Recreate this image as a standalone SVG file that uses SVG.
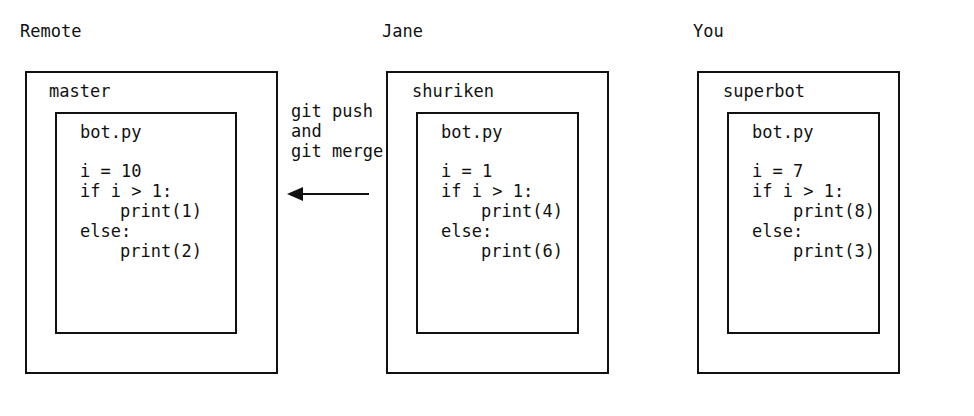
<svg xmlns="http://www.w3.org/2000/svg" width="974" height="416" viewBox="0 0 974 416">
<style>
text{font-family:"DejaVu Sans Mono","Liberation Mono",monospace;font-size:17px;fill:#111}
.box{fill:#fff;stroke:#111;stroke-width:2}
.conn{stroke:#111;stroke-width:2;fill:none}
</style>
<rect width="974" height="416" fill="#fff"/>
<g id="remote">
<text x="20" y="37">Remote</text>
<rect class="box" x="26" y="72" width="251" height="301"/>
<text x="49" y="97">master</text>
<rect class="box" x="56" y="113" width="180" height="220"/>
<text x="80" y="138">bot.py</text>
<text x="80" y="177">i = 10</text>
<text x="80" y="197">if i &gt; 1:</text>
<text x="120" y="217">print(1)</text>
<text x="80" y="237">else:</text>
<text x="120" y="257">print(2)</text>
</g>
<g id="jane">
<text x="382" y="37">Jane</text>
<rect class="box" x="387" y="72" width="221" height="301"/>
<text x="412" y="97">shuriken</text>
<rect class="box" x="417" y="113" width="161" height="220"/>
<text x="441" y="138">bot.py</text>
<text x="441" y="177">i = 1</text>
<text x="441" y="197">if i &gt; 1:</text>
<text x="481" y="217">print(4)</text>
<text x="441" y="237">else:</text>
<text x="481" y="257">print(6)</text>
</g>
<g id="you">
<text x="693" y="37">You</text>
<rect class="box" x="698" y="72" width="201" height="301"/>
<text x="723" y="97">superbot</text>
<rect class="box" x="728" y="113" width="151" height="220"/>
<text x="752" y="138">bot.py</text>
<text x="752" y="177">i = 7</text>
<text x="752" y="197">if i &gt; 1:</text>
<text x="793" y="217">print(8)</text>
<text x="752" y="237">else:</text>
<text x="793" y="257">print(3)</text>
</g>
<g id="connectors">
<line class="conn" x1="369" y1="194" x2="296" y2="194"/>
<path d="M287,194 L303,187 L303,201 Z" fill="#111"/>
<text x="291" y="117">git push</text>
<text x="291" y="137">and</text>
<text x="291" y="157">git merge</text>
</g>
</svg>
